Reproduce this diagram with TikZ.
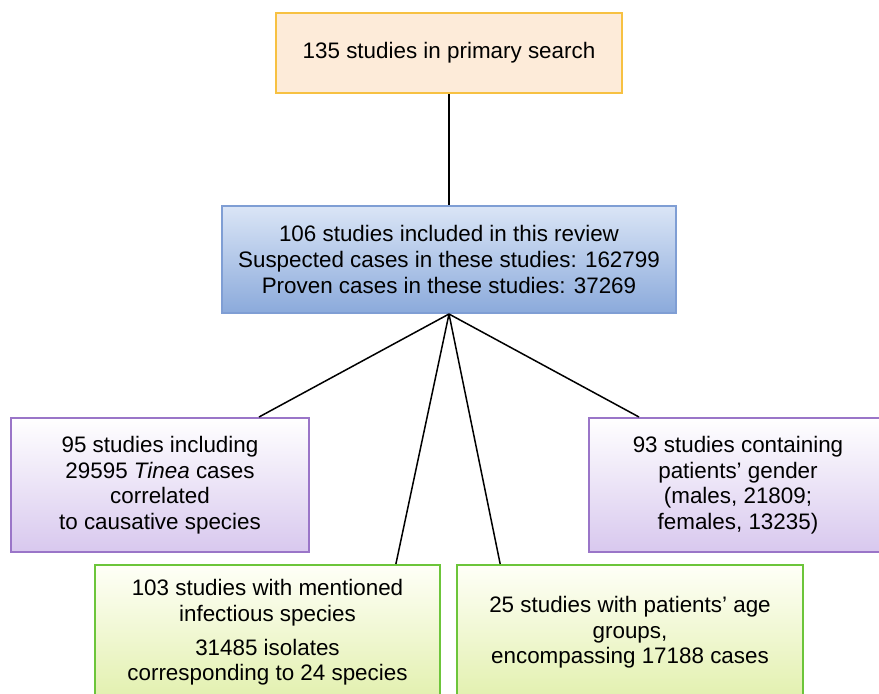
\documentclass[tikz,border=0pt]{standalone}
\usepackage{fontspec}
\setmainfont{Liberation Sans}
\usetikzlibrary{calc}
\definecolor{peach}{HTML}{FDEBD9}
\definecolor{gold}{HTML}{F7C142}
\definecolor{blueline}{HTML}{7F9ED4}
\definecolor{bluetop}{HTML}{DAE5F6}
\definecolor{bluebot}{HTML}{8BAADB}
\definecolor{purpleline}{HTML}{9A75C8}
\definecolor{purplebot}{HTML}{D8C8EE}
\definecolor{greenline}{HTML}{6CC53A}
\definecolor{greenbot}{HTML}{E2F0AE}

\begin{document}
\begin{tikzpicture}[x=0.5pt, y=-0.5pt,
  box/.style={rectangle, draw, line width=1pt, align=center, inner sep=2pt,
    font=\fontsize{11.2}{12.8}\selectfont},
  searchbox/.style={box, draw=gold, fill=peach},
  reviewbox/.style={box, draw=blueline, top color=bluetop, bottom color=bluebot},
  purplebox/.style={box, draw=purpleline, top color=white, bottom color=purplebot},
  greenbox/.style={box, draw=greenline, top color=green!5!yellow!3, bottom color=greenbot},
  link/.style={line width=0.75pt, black}]
  \clip (0,0) rectangle (879,693);
  \fill[white] (0,0) rectangle (879,693);

  \node[searchbox, minimum width=173pt, minimum height=40pt] (primary) at (449,53)
    {135 studies in primary search};
  \node[reviewbox, minimum width=227pt, minimum height=53.5pt] (review) at (449,259.5)
    {106 studies included in this review\\Suspected cases in these studies: 162799\\Proven cases in these studies: 37269};
  \node[purplebox, minimum width=149pt, minimum height=67pt] (tinea) at (160,485)
    {95 studies including\\29595 \textit{Tinea} cases\\correlated\\to causative species};
  \node[purplebox, minimum width=149pt, minimum height=67pt] (gender) at (738,485)
    {93 studies containing\\patients’ gender\\(males, 21809;\\females, 13235)};
  \node[greenbox, minimum width=172.5pt, minimum height=67.5pt] (species) at (267.5,632.5)
    {103 studies with mentioned\\infectious species\\[4pt]31485 isolates\\corresponding to 24 species};
  \node[greenbox, minimum width=173pt, minimum height=67.5pt] (age) at (630,632.5)
    {25 studies with patients’ age\\groups,\\encompassing 17188 cases};

  \draw[link] (primary.south) -- (review.north);
  \draw[link] (review.south) -- ($(tinea.north west)!0.83!(tinea.north east)$);
  \draw[link] (review.south) -- ($(gender.north west)!0.17!(gender.north east)$);
  \draw[link] (review.south) -- ($(species.north west)!0.87!(species.north east)$);
  \draw[link] (review.south) -- ($(age.north west)!0.127!(age.north east)$);
\end{tikzpicture}
\end{document}
